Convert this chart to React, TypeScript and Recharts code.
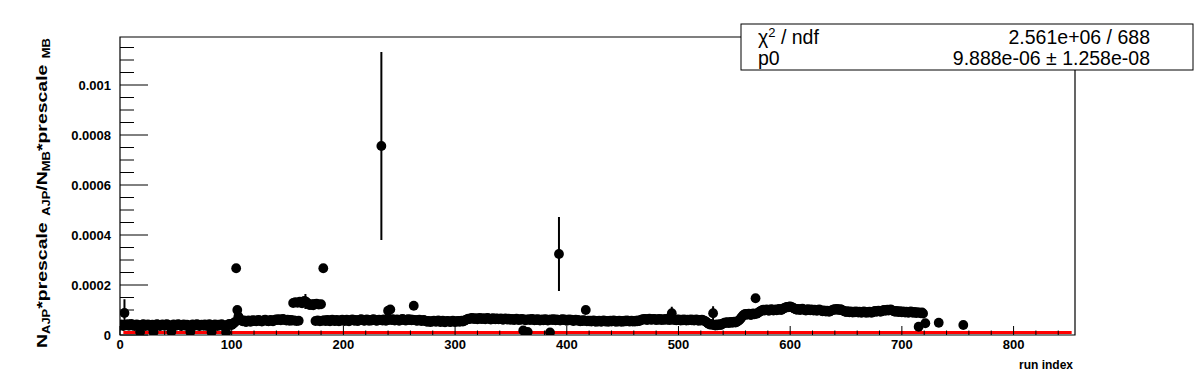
import { ScatterChart, Scatter, XAxis, YAxis, ErrorBar, ReferenceLine, ReferenceArea } from "recharts"

// N_AJP*prescale_AJP / N_MB*prescale_MB per run, in units of 1e-6 (runs 0..719)
const ratioE6 = [
  38, 42, 40, 36, 88, 41, 39, 43, 37, 40, 44, 38, 41, 36, 39, 42, 40, 37, 12, 38,
  41, 43, 39, 36, 40, 42, 38, 35, 39, 41, 11, 37, 40, 43, 41, 38, 36, 40, 42, 39,
  37, 41, 43, 40, 38, 35, 13, 39, 42, 40, 37, 39, 43, 41, 38, 36, 40, 42, 39, 37,
  41, 38, 36, 12, 39, 42, 40, 37, 41, 43, 39, 36, 38, 41, 40, 37, 42, 39, 36, 40,
  43, 38, 11, 37, 40, 42, 39, 36, 41, 38, 40, 43, 37, 35, 39, 10, 38, 42, 44, 41,
  40, 44, 48, 52, 267, 100, 74, 66, 60, 57, 55, 58, 54, 52, 56, 58, 55, 53, 57, 59,
  56, 58, 55, 57, 60, 58, 56, 54, 57, 59, 61, 58, 56, 55, 58, 60, 57, 55, 58, 61,
  62, 60, 63, 61, 59, 62, 64, 61, 60, 58, 61, 59, 57, 60, 58, 128, 58, 131, 56, 129,
  57, 133, 130, 127, 132, 136, 134, 131, 126, 122, 120, 123, 121, 119, 124, 56, 125, 58, 122, 55,
  123, 57, 267, 59, 56, 58, 60, 57, 55, 58, 61, 59, 56, 57, 60, 58, 55, 57, 59, 61,
  58, 56, 59, 61, 57, 55, 58, 60, 62, 59, 57, 60, 58, 56, 59, 61, 63, 60, 58, 57,
  60, 62, 59, 57, 60, 58, 61, 63, 60, 58, 57, 59, 61, 60, 756, 58, 62, 60, 57, 59,
  97, 61, 102, 60, 63, 61, 58, 60, 62, 59, 57, 60, 62, 64, 61, 59, 58, 61, 63, 60,
  62, 59, 61, 117, 60, 58, 57, 59, 61, 58, 56, 58, 60, 57, 55, 53, 56, 54, 52, 55,
  54, 57, 55, 53, 56, 58, 54, 52, 55, 57, 53, 51, 54, 56, 55, 53, 52, 55, 57, 54,
  52, 55, 54, 56, 53, 55, 57, 54, 56, 59, 61, 63, 65, 64, 66, 68, 66, 64, 67, 65,
  63, 66, 68, 65, 64, 67, 65, 63, 66, 68, 66, 64, 62, 65, 67, 64, 63, 66, 65, 63,
  64, 66, 63, 61, 64, 66, 63, 62, 65, 63, 61, 64, 62, 60, 63, 65, 62, 60, 63, 61,
  64, 18, 62, 59, 61, 12, 63, 60, 62, 64, 61, 59, 62, 60, 63, 61, 58, 60, 62, 59,
  61, 63, 60, 58, 61, 10, 62, 60, 63, 61, 59, 62, 60, 324, 58, 61, 63, 60, 62, 59,
  57, 60, 62, 59, 61, 58, 56, 59, 61, 58, 60, 57, 55, 58, 56, 59, 57, 100, 55, 57,
  55, 57, 54, 56, 58, 55, 53, 56, 54, 57, 55, 53, 56, 58, 55, 54, 56, 53, 55, 57,
  54, 56, 58, 55, 53, 56, 54, 57, 55, 53, 56, 54, 57, 55, 58, 56, 54, 55, 57, 54,
  56, 54, 57, 55, 58, 56, 59, 61, 63, 62, 64, 62, 60, 63, 65, 62, 61, 63, 64, 62,
  60, 63, 61, 64, 62, 60, 63, 61, 62, 64, 61, 63, 60, 62, 87, 61, 63, 60, 59, 61,
  62, 60, 58, 61, 59, 62, 60, 58, 61, 59, 60, 62, 59, 61, 58, 60, 62, 59, 57, 60,
  58, 61, 59, 57, 55, 52, 48, 45, 42, 44, 41, 87, 40, 38, 42, 39, 41, 43, 40, 44,
  46, 48, 50, 49, 51, 48, 50, 52, 49, 51, 53, 50, 52, 55, 58, 62, 68, 74, 79, 82,
  84, 81, 83, 85, 82, 80, 84, 86, 83, 147, 85, 88, 91, 94, 97, 99, 101, 98, 100, 102,
  99, 97, 100, 103, 101, 98, 100, 102, 99, 101, 104, 102, 100, 103, 106, 108, 110, 112, 111, 113,
  114, 112, 110, 108, 105, 103, 101, 104, 102, 100, 103, 105, 102, 100, 98, 101, 103, 100, 99, 102,
  100, 98, 101, 99, 97, 100, 102, 99, 97, 95, 98, 96, 94, 97, 95, 93, 96, 98, 100, 102,
  103, 101, 104, 102, 100, 103, 101, 98, 96, 94, 92, 95, 93, 91, 94, 92, 90, 93, 91, 94,
  92, 90, 93, 91, 89, 92, 94, 91, 89, 92, 90, 93, 91, 89, 92, 94, 96, 93, 95, 97,
  95, 93, 96, 98, 100, 97, 99, 101, 98, 100, 102, 99, 97, 95, 93, 96, 94, 92, 95, 93,
  91, 94, 92, 90, 93, 91, 89, 92, 94, 91, 89, 92, 90, 88, 91, 33, 89, 87, 90, 86,
]

// isolated runs after the main block
const extraRuns = [721, 733, 755]
const extraRatioE6 = [47, 49, 40]

// runs with visible error bars
const errRuns = [4, 166, 234, 393, 494, 531]
const errE6 = [55, 30, 376, 148, 26, 28]

const xTicks = [0, 20, 40, 60, 80, 100, 120, 140, 160, 180, 200, 220, 240, 260, 280, 300, 320, 340, 360, 380, 400, 420, 440, 460, 480, 500, 520, 540, 560, 580, 600, 620, 640, 660, 680, 700, 720, 740, 760, 780, 800, 820, 840]
const yTicks = [0, 0.00005, 0.0001, 0.00015, 0.0002, 0.00025, 0.0003, 0.00035, 0.0004, 0.00045, 0.0005, 0.00055, 0.0006, 0.00065, 0.0007, 0.00075, 0.0008, 0.00085, 0.0009, 0.00095, 0.001, 0.00105, 0.0011, 0.00115]
const yTickLabels = ["0", "0.0002", "0.0004", "0.0006", "0.0008", "0.001"]

const fitP0 = 9.888e-6
const fitFrom = 3
const fitTo = 852
const xMax = 855
const yMax = 0.001192

const points = [
  ...ratioE6.map((v, i) => ({ run: i, ratio: v * 1e-6 })),
  ...extraRuns.map((r, i) => ({ run: r, ratio: extraRatioE6[i] * 1e-6 })),
].map((p) => {
  const k = errRuns.indexOf(p.run)
  return { ...p, err: k >= 0 ? errE6[k] * 1e-6 : 0 }
})

const font = "'Liberation Sans', Arial, Helvetica, sans-serif"

// frame edges in pixels (plot area)
const left = 120
const bottom = 335

const XTick = ({ x, payload }: any) => {
  const v = payload.value
  const major = v % 100 === 0
  return (
    <g>
      <line x1={x} x2={x} y1={bottom} y2={bottom - (major ? 9 : 4.5)} stroke="#000" strokeWidth={1} />
      {major && (
        <text x={x} y={bottom + 14} textAnchor="middle" fontSize={13} fontWeight="bold" fontFamily={font} fill="#000">
          {v}
        </text>
      )}
    </g>
  )
}

const YTick = ({ y, payload }: any) => {
  const step = Math.round(payload.value / 0.00005)
  const major = step % 4 === 0
  return (
    <g>
      <line x1={left} x2={left + (major ? 28 : 14)} y1={y} y2={y} stroke="#000" strokeWidth={1} />
      {major && (
        <text x={left - 9} y={y + 4.5} textAnchor="end" fontSize={13} fontWeight="bold" fontFamily={font} fill="#000">
          {yTickLabels[step / 4]}
        </text>
      )}
    </g>
  )
}

const Marker = (props: any) => <circle cx={props.cx} cy={props.cy} r={4.9} fill="#000" />

export default function App() {
  return (
    <div style={{ position: "absolute", left: 0, top: 0, width: 1196, height: 372, background: "#fff" }}>
      <ScatterChart width={1196} height={372} margin={{ top: 37, right: 121, bottom: 7, left: 90 }} style={{ fontFamily: font }}>
        <XAxis
          type="number"
          dataKey="run"
          domain={[0, xMax]}
          ticks={xTicks}
          height={30}
          tickSize={0}
          tickMargin={0}
          axisLine={false}
          tickLine={false}
          tick={<XTick />}
          interval={0}
          allowDataOverflow
        />
        <YAxis
          type="number"
          dataKey="ratio"
          domain={[0, yMax]}
          ticks={yTicks}
          width={30}
          tickSize={0}
          tickMargin={0}
          axisLine={false}
          tickLine={false}
          tick={<YTick />}
          interval={0}
          allowDataOverflow
        />
        <ReferenceArea x1={0} x2={xMax} y1={0} y2={yMax} fill="none" stroke="#000" strokeWidth={1.2} fillOpacity={0} />
        <Scatter data={points} fill="#000" shape={<Marker />} isAnimationActive={false}>
          <ErrorBar dataKey="err" direction="y" width={0} stroke="#000" strokeWidth={2} />
        </Scatter>
        <ReferenceLine
          segment={[
            { x: fitFrom, y: fitP0 },
            { x: fitTo, y: fitP0 },
          ]}
          stroke="#ff0000"
          strokeWidth={3}
        />
      </ScatterChart>
      <svg width={1196} height={372} style={{ position: "absolute", left: 0, top: 0, pointerEvents: "none" }} fontFamily={font}>
        <text
          transform="translate(47, 348) rotate(-90)"
          fontSize={15}
          fontWeight="bold"
          fill="#000"
          textLength={310}
          lengthAdjust="spacingAndGlyphs"
        >
          <tspan>N</tspan>
          <tspan fontSize={10} dy={3}>AJP</tspan>
          <tspan dy={-3}>*prescale</tspan>
          <tspan fontSize={10} dy={3} dx={5}>AJP</tspan>
          <tspan dy={-3}>/N</tspan>
          <tspan fontSize={10} dy={3}>MB</tspan>
          <tspan dy={-3}>*prescale</tspan>
          <tspan fontSize={10} dy={3} dx={5}>MB</tspan>
        </text>
        <text x={1073} y={369} textAnchor="end" fontSize={12} fontWeight="bold" fill="#000">
          run index
        </text>
        <rect x={741} y={24} width={452} height={46} fill="#fff" stroke="#000" strokeWidth={1} />
        <text x={758} y={44} fontSize={19.5} fill="#000">
          <tspan>χ</tspan>
          <tspan fontSize={13} dy={-7}>2</tspan>
          <tspan dy={7}> / ndf</tspan>
        </text>
        <text x={1150} y={44} textAnchor="end" fontSize={19.5} fill="#000">
          2.561e+06 / 688
        </text>
        <text x={758} y={65} fontSize={19.5} fill="#000">
          p0
        </text>
        <text x={1150} y={65} textAnchor="end" fontSize={19.5} fill="#000">
          9.888e-06 ± 1.258e-08
        </text>
      </svg>
    </div>
  )
}
